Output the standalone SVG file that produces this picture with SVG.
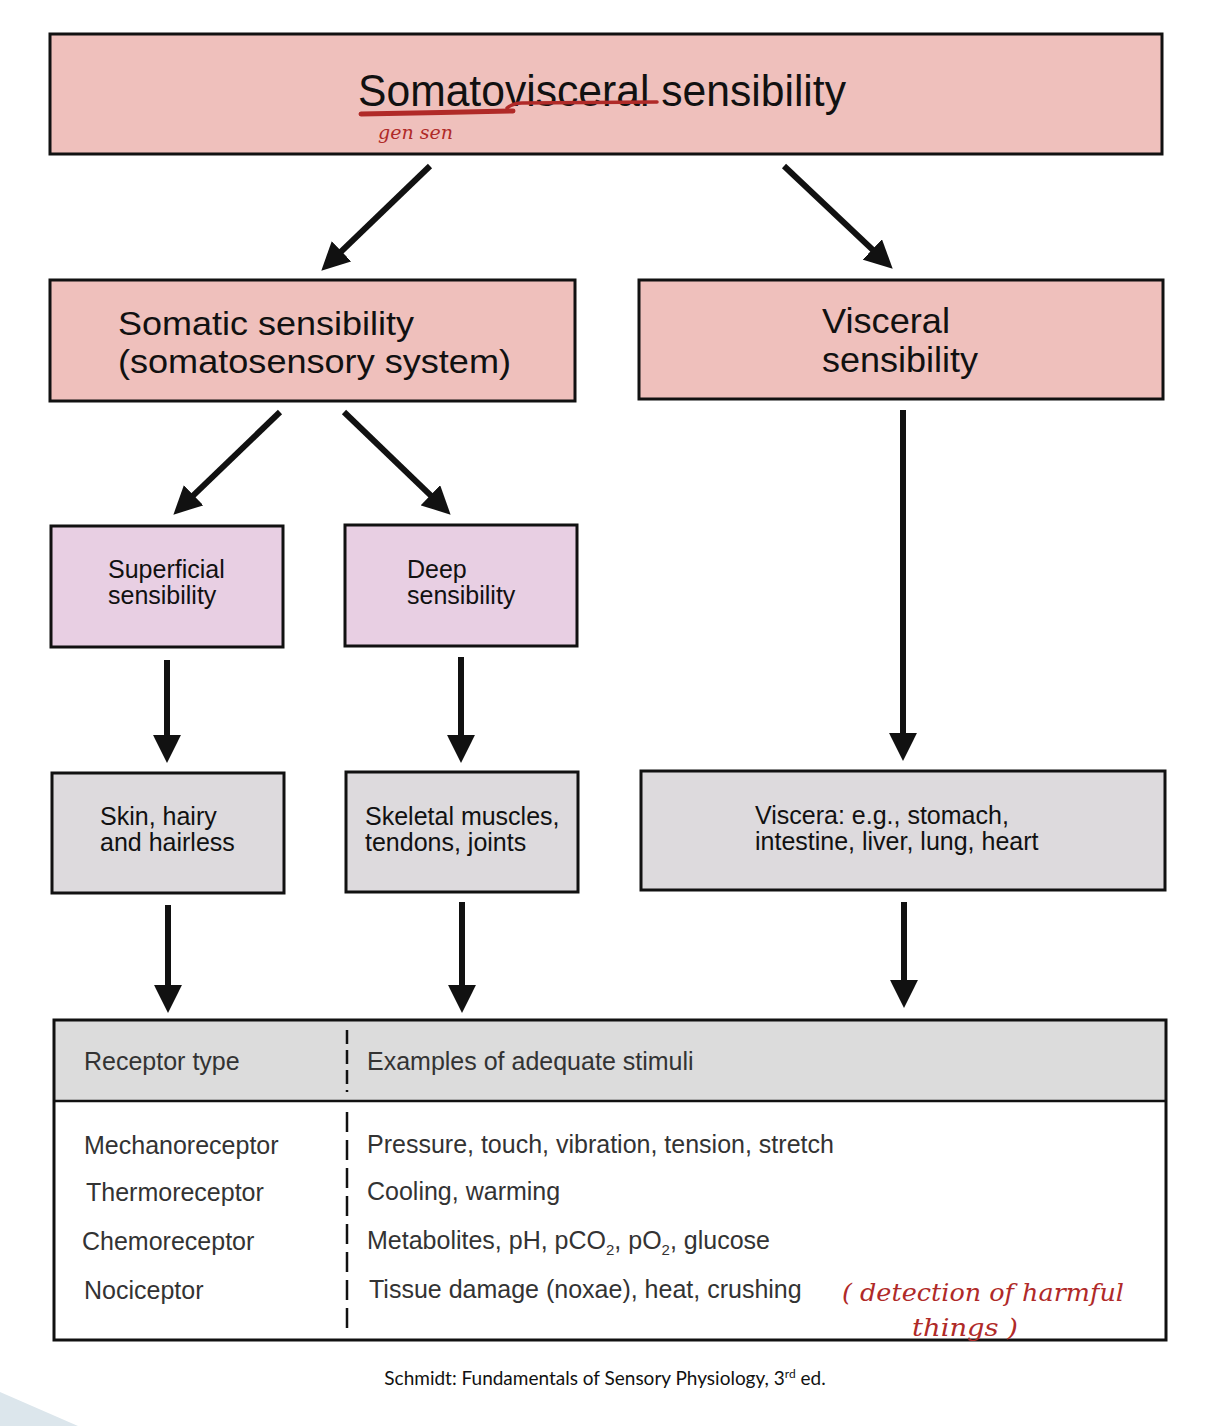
<svg xmlns="http://www.w3.org/2000/svg" width="1220" height="1426" viewBox="0 0 1220 1426">
<style>
.box{stroke:#111;stroke-width:3}
.pink{fill:#efc0bc}
.lav{fill:#e8cfe3}
.grey{fill:#dddadd}
.t{font-family:"Liberation Sans",Arial,sans-serif;fill:#111}
.big{font-size:34px}
.mid{font-size:25px}
.tab{font-family:"Liberation Sans",Arial,sans-serif;font-size:25px;fill:#333}
.hand{font-family:"DejaVu Serif","Liberation Serif",serif;font-style:italic;fill:#b02a28}
.conn line{stroke:#111;stroke-width:6}
</style>
<defs>
<marker id="ah" markerUnits="userSpaceOnUse" markerWidth="28" markerHeight="28" viewBox="0 0 26 26" refX="14" refY="13" orient="auto">
<path d="M0,0 L26,13 L0,26 z" fill="#111"/>
</marker>
</defs>
<rect width="1220" height="1426" fill="#fff"/>
<polygon points="0,1392 78,1426 0,1426" fill="#dce6ec"/>

<g id="n-top">
<rect class="box pink" x="50" y="34" width="1112" height="120"/>
<text class="t" x="358" y="106" font-size="44" textLength="488" lengthAdjust="spacingAndGlyphs">Somatovisceral sensibility</text>
<path d="M361,114 C400,113 470,112 513,111" stroke="#b02a28" stroke-width="5" fill="none" stroke-linecap="round"/>
<path d="M507,108 C512,104 516,103 522,103 L657,102" stroke="#b02a28" stroke-width="3.5" fill="none" stroke-linecap="round"/>
<text class="hand" x="378" y="139" font-size="19">gen sen</text>
</g>

<g id="n-somatic">
<rect class="box pink" x="50" y="280" width="525" height="121"/>
<text class="t big" x="118" y="335" textLength="296" lengthAdjust="spacingAndGlyphs">Somatic sensibility</text>
<text class="t big" x="118" y="373" textLength="393" lengthAdjust="spacingAndGlyphs">(somatosensory system)</text>
</g>

<g id="n-visceral">
<rect class="box pink" x="639" y="280" width="524" height="119"/>
<text class="t" font-size="35" x="822" y="333" textLength="128" lengthAdjust="spacingAndGlyphs">Visceral</text>
<text class="t" font-size="35" x="822" y="372" textLength="156" lengthAdjust="spacingAndGlyphs">sensibility</text>
</g>

<g id="n-superficial">
<rect class="box lav" x="51" y="526" width="232" height="121"/>
<text class="t mid" x="108" y="578">Superficial</text>
<text class="t mid" x="108" y="604">sensibility</text>
</g>

<g id="n-deep">
<rect class="box lav" x="345" y="525" width="232" height="121"/>
<text class="t mid" x="407" y="578">Deep</text>
<text class="t mid" x="407" y="604">sensibility</text>
</g>

<g id="n-skin">
<rect class="box grey" x="52" y="773" width="232" height="120"/>
<text class="t mid" x="100" y="825">Skin, hairy</text>
<text class="t mid" x="100" y="851">and hairless</text>
</g>

<g id="n-skeletal">
<rect class="box grey" x="346" y="772" width="232" height="120"/>
<text class="t mid" x="365" y="825">Skeletal muscles,</text>
<text class="t mid" x="365" y="851">tendons, joints</text>
</g>

<g id="n-viscera">
<rect class="box grey" x="641" y="771" width="524" height="119"/>
<text class="t mid" x="755" y="824">Viscera: e.g., stomach,</text>
<text class="t mid" x="755" y="850">intestine, liver, lung, heart</text>
</g>

<g id="n-table">
<rect x="54" y="1020" width="1112" height="81" fill="#dcdcdc"/>
<rect x="54" y="1020" width="1112" height="320" fill="none" stroke="#111" stroke-width="3"/>
<line x1="54" y1="1101" x2="1166" y2="1101" stroke="#111" stroke-width="2.5"/>
<line x1="347" y1="1030" x2="347" y2="1092" stroke="#111" stroke-width="2.5" stroke-dasharray="14,6"/>
<line x1="347" y1="1112" x2="347" y2="1330" stroke="#111" stroke-width="2.5" stroke-dasharray="20,8"/>
<text class="tab" x="84" y="1070">Receptor type</text>
<text class="tab" x="367" y="1070">Examples of adequate stimuli</text>
<text class="tab" x="84" y="1154">Mechanoreceptor</text>
<text class="tab" x="86" y="1201">Thermoreceptor</text>
<text class="tab" x="82" y="1250">Chemoreceptor</text>
<text class="tab" x="84" y="1299">Nociceptor</text>
<text class="tab" x="367" y="1153">Pressure, touch, vibration, tension, stretch</text>
<text class="tab" x="367" y="1200">Cooling, warming</text>
<text class="tab" x="367" y="1249">Metabolites, pH, pCO<tspan font-size="15" dy="6">2</tspan><tspan dy="-6">, pO</tspan><tspan font-size="15" dy="6">2</tspan><tspan dy="-6">, glucose</tspan></text>
<text class="tab" x="369" y="1298">Tissue damage (noxae), heat, crushing</text>
<text class="hand" x="842" y="1301" font-size="25" textLength="282" lengthAdjust="spacingAndGlyphs">( detection of harmful</text>
<text class="hand" x="912" y="1336" font-size="25" textLength="106" lengthAdjust="spacingAndGlyphs">things )</text>
</g>

<g id="connectors" class="conn">
<line x1="430" y1="166" x2="330.6" y2="261.7" marker-end="url(#ah)"/>
<line x1="784" y1="166" x2="883.3" y2="259.8" marker-end="url(#ah)"/>
<line x1="280" y1="412" x2="182.7" y2="505.7" marker-end="url(#ah)"/>
<line x1="344" y1="412" x2="441.3" y2="505.7" marker-end="url(#ah)"/>
<line x1="167" y1="660" x2="167" y2="750" marker-end="url(#ah)"/>
<line x1="461" y1="657" x2="461" y2="750" marker-end="url(#ah)"/>
<line x1="903" y1="410" x2="903" y2="748" marker-end="url(#ah)"/>
<line x1="168" y1="905" x2="168" y2="1000" marker-end="url(#ah)"/>
<line x1="462" y1="902" x2="462" y2="1000" marker-end="url(#ah)"/>
<line x1="904" y1="902" x2="904" y2="995" marker-end="url(#ah)"/>
</g>

<text x="605" y="1385" text-anchor="middle" font-family="Lato,'Liberation Sans',sans-serif" font-size="19" fill="#111">Schmidt: Fundamentals of Sensory Physiology, 3<tspan font-size="12" dy="-7">rd</tspan><tspan dy="7"> ed.</tspan></text>
</svg>
